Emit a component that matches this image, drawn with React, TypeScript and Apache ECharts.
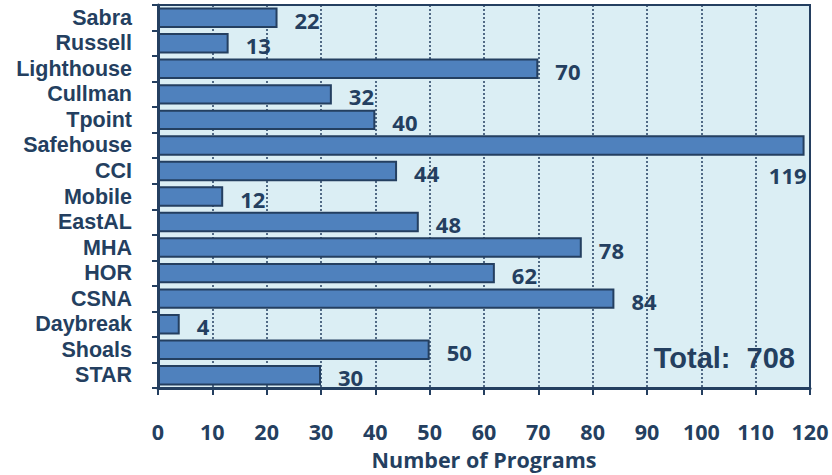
import React, { useEffect, useRef } from "react";
import * as echarts from "echarts";

const categories = [
  "Sabra", "Russell", "Lighthouse", "Cullman", "Tpoint", "Safehouse", "CCI",
  "Mobile", "EastAL", "MHA", "HOR", "CSNA", "Daybreak", "Shoals", "STAR",
];
const programCounts = [22, 13, 70, 32, 40, 119, 44, 12, 48, 78, 62, 84, 4, 50, 30];
const xTicks = { min: 0, max: 120, interval: 10 };
const axisName = "Number of Programs";
const totalText = "Total:  708";

const NAVY = "#243F60";
const BAR = "#4F81BD";
const BG = "#DBEEF4";
const FONT = "'Open Sans', Lato, sans-serif";
const SANS = "'Liberation Sans', Arial, sans-serif";

export default function App() {
  const ref = useRef<HTMLDivElement>(null);
  useEffect(() => {
    document.body.style.margin = "0";
    if (!ref.current) return;
    const chart = echarts.init(ref.current, undefined, { renderer: "svg" });
    const maxIdx = programCounts.indexOf(Math.max(...programCounts));
    chart.setOption({
      animation: false,
      grid: {
        left: 158, right: 22, top: 5, bottom: 86,
        show: true, backgroundColor: BG, borderColor: NAVY, borderWidth: 2,
      },
      xAxis: {
        type: "value",
        min: xTicks.min, max: xTicks.max, interval: xTicks.interval,
        name: axisName, nameLocation: "middle", nameGap: 60,
        nameTextStyle: { color: NAVY, fontFamily: FONT, fontWeight: "bold", fontSize: 21.5, lineHeight: 22 },
        axisLine: { show: true, lineStyle: { color: NAVY, width: 3 } },
        axisTick: { show: true, length: 7, lineStyle: { color: NAVY, width: 2 } },
        axisLabel: {
          color: NAVY, fontFamily: FONT, fontWeight: "bold", fontSize: 21.5, lineHeight: 22, margin: 32,
        },
        splitLine: { show: true, lineStyle: { color: NAVY, type: [2, 2], width: 1.5 } },
      },
      yAxis: {
        type: "category",
        data: categories,
        inverse: true,
        axisLine: { show: true, lineStyle: { color: NAVY, width: 3 } },
        axisTick: { show: true, length: 6, lineStyle: { color: NAVY, width: 2 } },
        axisLabel: {
          interval: 0, color: NAVY, fontFamily: SANS, fontWeight: "bold", fontSize: 21.5,
          lineHeight: 22, margin: 26,
        },
        splitLine: { show: false },
      },
      series: [
        {
          type: "bar",
          barCategoryGap: "20%",
          data: programCounts.map((v, i) =>
            i === maxIdx
              ? { value: v, label: { position: "insideBottomRight", distance: 0, offset: [2, 30] } }
              : v
          ),
          itemStyle: { color: BAR, borderColor: NAVY, borderWidth: 2 },
          label: {
            show: true, position: "right", distance: 17, offset: [0, 2],
            color: NAVY, fontFamily: FONT, fontWeight: "bold", fontSize: 22, lineHeight: 22,
          },
        },
      ],
      graphic: [
        {
          type: "text", right: 37, top: 343,
          style: {
            text: totalText, fill: NAVY, fontFamily: SANS,
            fontWeight: "bold", fontSize: 29,
          },
        },
      ],
    });
    return () => chart.dispose();
  }, []);
  return <div ref={ref} style={{ width: 832, height: 475 }} />;
}
